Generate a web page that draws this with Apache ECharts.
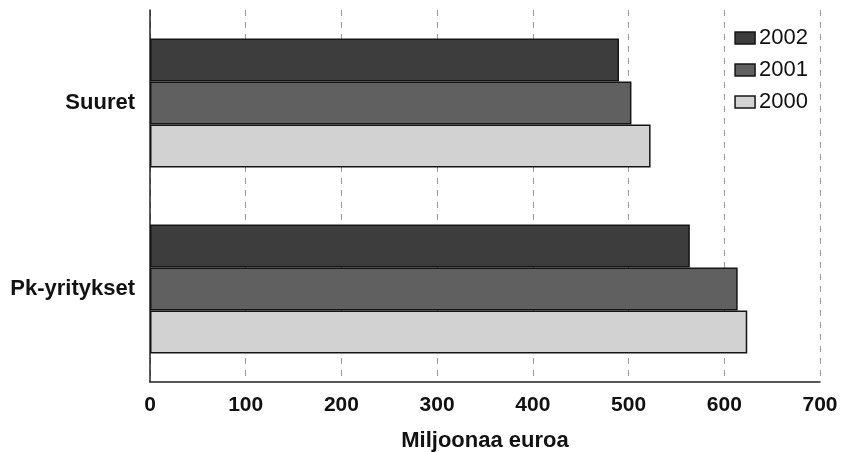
<!DOCTYPE html>
<html><head><meta charset="utf-8">
<script src="https://cdn.jsdelivr.net/npm/echarts@6/dist/echarts.min.js"></script>
<style>html,body{margin:0;padding:0;background:#fff}#c{width:841px;height:452px}</style>
</head><body><div id="c"></div>
<script>
const categories = ['Suuret', 'Pk-yritykset'];
const years = ['2002', '2001', '2000'];
const values2002 = [490, 564];
const values2001 = [503, 614];
const values2000 = [523, 624];
const xTicks = [0, 100, 200, 300, 400, 500, 600, 700];

const colors = {'2002': '#3d3d3d', '2001': '#606060', '2000': '#d2d2d2'};
const dataBy = {'2002': values2002, '2001': values2001, '2000': values2000};

const chart = echarts.init(document.getElementById('c'), null, {renderer: 'canvas'});
chart.setOption({
  animation: false,
  backgroundColor: '#fff',
  grid: {left: 150, right: 21, top: 10, bottom: 70, containLabel: false, outerBoundsMode: 'none'},
  legend: {
    data: years, orient: 'vertical', right: 28, top: 22,
    icon: 'rect', itemWidth: 20, itemHeight: 12, itemGap: 10,
    textStyle: {fontFamily: 'Liberation Sans, Arial', fontSize: 22, color: '#111', padding: [0, 0, 0, -1]},
    itemStyle: {borderColor: '#151515', borderWidth: 1.5}
  },
  xAxis: {
    type: 'value', min: xTicks[0], max: xTicks[xTicks.length - 1], interval: 100,
    name: 'Miljoonaa euroa', nameLocation: 'middle', nameGap: 48,
    nameTextStyle: {fontFamily: 'Liberation Sans Narrow, Arial Narrow, Liberation Sans', fontWeight: 'bold', fontSize: 22, color: '#111'},
    axisLine: {show: true, lineStyle: {color: '#222', width: 1.5}},
    axisTick: {show: false},
    axisLabel: {fontFamily: 'Liberation Sans Narrow, Arial Narrow, Liberation Sans', fontWeight: 'bold', fontSize: 21, color: '#111', margin: 13},
    splitLine: {show: true, lineStyle: {color: '#999', type: [6, 6], width: 1}}
  },
  yAxis: {
    type: 'category', data: categories, inverse: true,
    axisLine: {show: true, lineStyle: {color: '#222', width: 1.5}},
    axisTick: {show: false},
    axisLabel: {fontFamily: 'Liberation Sans, Arial', fontWeight: 'bold', fontSize: 22, color: '#111', margin: 15}
  },
  series: years.map(y => ({
    name: y, type: 'bar', data: dataBy[y],
    barGap: '0%', barCategoryGap: '30.6%',
    itemStyle: {color: colors[y], borderColor: '#151515', borderWidth: 1.5}
  }))
});
</script></body></html>
